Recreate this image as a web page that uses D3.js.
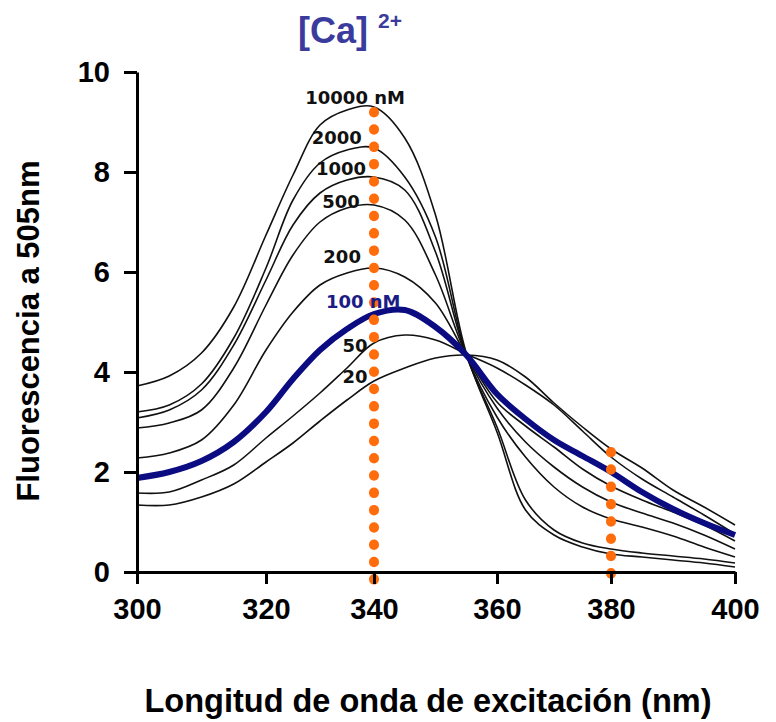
<!DOCTYPE html>
<html>
<head>
<meta charset="utf-8">
<script src="https://cdn.jsdelivr.net/npm/d3@7"></script>
<style>
  body { margin: 0; background: #fff; }
  svg { display: block; }
</style>
</head>
<body>
<div id="chart"></div>
<script>
// excitation wavelength (nm)
const wavelengths = [300, 305, 310, 315, 320, 325, 330, 335, 340, 345, 350, 355, 360, 365, 370, 375, 380, 385, 390, 395, 400]

// fluorescence at 505 nm for each free [Ca2+]
const c10000 = [3.72, 3.92, 4.38, 5.3, 6.74, 7.94, 8.94, 9.24, 9.3, 8.68, 7.14, 4.38, 2.8, 1.24, 0.74, 0.5, 0.36, 0.3, 0.24, 0.18, 0.1]
const c2000 = [3.2, 3.34, 3.76, 4.68, 6.08, 7.44, 8.18, 8.44, 8.48, 7.9, 6.7, 4.34, 2.9, 1.44, 0.84, 0.58, 0.46, 0.38, 0.32, 0.26, 0.18]
const c1000 = [3.08, 3.24, 3.64, 4.54, 5.84, 6.94, 7.58, 7.84, 7.9, 7.64, 6.4, 4.34, 3.1, 2.3, 1.7, 1.3, 1.06, 0.9, 0.72, 0.5, 0.3]
const c500 = [2.88, 2.98, 3.24, 4.08, 5.34, 6.34, 7.0, 7.28, 7.34, 7.04, 5.94, 4.34, 3.28, 2.6, 2.1, 1.7, 1.4, 1.18, 0.98, 0.74, 0.46]
const c200 = [2.28, 2.38, 2.64, 3.34, 4.44, 5.2, 5.74, 5.98, 6.08, 5.9, 5.38, 4.34, 3.4, 2.92, 2.5, 2.06, 1.72, 1.44, 1.2, 0.94, 0.62]
const c100 = [1.88, 2.0, 2.22, 2.6, 3.2, 3.86, 4.44, 4.86, 5.16, 5.24, 4.9, 4.34, 3.56, 3.06, 2.64, 2.32, 2.0, 1.6, 1.26, 0.98, 0.74]
const c50 = [1.58, 1.6, 1.84, 2.14, 2.68, 3.12, 3.58, 4.08, 4.58, 4.74, 4.64, 4.36, 4.08, 3.74, 3.34, 2.82, 2.3, 1.86, 1.5, 1.14, 0.76]
const c20 = [1.34, 1.34, 1.5, 1.76, 2.2, 2.58, 3.02, 3.44, 3.82, 4.08, 4.28, 4.34, 4.24, 3.9, 3.38, 2.9, 2.46, 2.08, 1.64, 1.3, 0.94]

const seriesValues = [c10000, c2000, c1000, c500, c200, c100, c50, c20]
const seriesLabels = ['10000 nM', '2000', '1000', '500', '200', '100 nM', '50', '20']
const labelNm = [336.5, 333.1, 333.9, 333.9, 334.1, 338.0, 336.5, 336.5]
const labelVal = [9.36, 8.56, 7.94, 7.28, 6.18, 5.28, 4.4, 3.78]
const highlighted = '100 nM'

const xTicks = [300, 320, 340, 360, 380, 400]
const yTicks = [0, 2, 4, 6, 8, 10]

// dotted guides at the two excitation wavelengths
const guideNm = [340, 380]
const guideTop = [9.2, 2.4]
const guideBottom = -0.3

const width = 776
const height = 722
const blue = '#0b0b82'
const orange = '#ff6c0c'

const svg = d3.select('#chart').append('svg')
  .attr('width', width)
  .attr('height', height)

// tick positions in the original figure are not evenly spaced
const x = d3.scaleLinear()
  .domain(xTicks)
  .range([137, 266, 374, 497, 611, 735])

const y = d3.scaleLinear()
  .domain([0, 10])
  .range([572, 72])

const line = d3.line()
  .x(function(d) { return x(d[0]) })
  .y(function(d) { return y(d[1]) })
  .curve(d3.curveCatmullRom.alpha(0.5))

const series = seriesValues.map(function(vals, i) {
  return { label: seriesLabels[i], points: wavelengths.map(function(w, j) { return [w, vals[j]] }) }
})

// black curves first, blue one on top
svg.append('g').selectAll('path')
  .data(series.filter(function(s) { return s.label !== highlighted }))
  .enter().append('path')
    .attr('d', function(s) { return line(s.points) })
    .attr('fill', 'none')
    .attr('stroke', '#111')
    .attr('stroke-width', 1.6)

svg.append('g').selectAll('path')
  .data(series.filter(function(s) { return s.label === highlighted }))
  .enter().append('path')
    .attr('d', function(s) { return line(s.points) })
    .attr('fill', 'none')
    .attr('stroke', blue)
    .attr('stroke-width', 6)

// orange dotted guides
svg.append('g').selectAll('line')
  .data(guideNm)
  .enter().append('line')
    .attr('x1', function(d) { return x(d) })
    .attr('x2', function(d) { return x(d) })
    .attr('y1', function(d, i) { return y(guideTop[i]) })
    .attr('y2', y(guideBottom))
    .attr('stroke', orange)
    .attr('stroke-width', 10)
    .attr('stroke-linecap', 'round')
    .attr('stroke-dasharray', '0.5 16.8')

// curve labels
svg.append('g').selectAll('text')
  .data(seriesLabels)
  .enter().append('text')
    .attr('x', function(d, i) { return x(labelNm[i]) })
    .attr('y', function(d, i) { return y(labelVal[i]) })
    .attr('text-anchor', 'middle')
    .attr('font-family', 'DejaVu Sans, sans-serif')
    .attr('font-weight', 'bold')
    .attr('font-size', 18)
    .attr('fill', function(d) { return d === highlighted ? '#1c1c86' : '#111' })
    .text(function(d) { return d })

// axes
const xAxis = svg.append('g')
  .attr('transform', 'translate(0,' + y(0) + ')')
  .call(d3.axisBottom(x).tickValues(xTicks).tickSize(12).tickSizeOuter(0).tickPadding(14))

const yAxis = svg.append('g')
  .attr('transform', 'translate(' + x(300) + ',0)')
  .call(d3.axisLeft(y).tickValues(yTicks).tickSize(13).tickSizeOuter(0).tickPadding(14))

;[xAxis, yAxis].forEach(function(ax) {
  ax.selectAll('path, line').attr('stroke', '#000').attr('stroke-width', 3)
  ax.selectAll('text')
    .attr('fill', '#000')
    .attr('font-family', 'Liberation Sans, Arial, sans-serif')
    .attr('font-weight', 'bold')
    .attr('font-size', 29)
})

// titles
const title = svg.append('text')
  .attr('x', 298)
  .attr('y', 43)
  .attr('font-family', 'Liberation Sans, Arial, sans-serif')
  .attr('font-weight', 'bold')
  .attr('fill', '#3b3b9d')
title.append('tspan').attr('font-size', 36).text('[Ca]')
title.append('tspan').attr('font-size', 21).attr('dx', 10).attr('dy', -15).text('2+')

svg.append('text')
  .attr('transform', 'translate(39,' + 331 + ') rotate(-90)')
  .attr('text-anchor', 'middle')
  .attr('font-family', 'Liberation Sans, Arial, sans-serif')
  .attr('font-weight', 'bold')
  .attr('font-size', 31)
  .attr('fill', '#000')
  .text('Fluorescencia a 505nm')

svg.append('text')
  .attr('x', 428)
  .attr('y', 712)
  .attr('text-anchor', 'middle')
  .attr('font-family', 'Liberation Sans, Arial, sans-serif')
  .attr('font-weight', 'bold')
  .attr('font-size', 32.5)
  .attr('fill', '#000')
  .text('Longitud de onda de excitación (nm)')
</script>
</body>
</html>
